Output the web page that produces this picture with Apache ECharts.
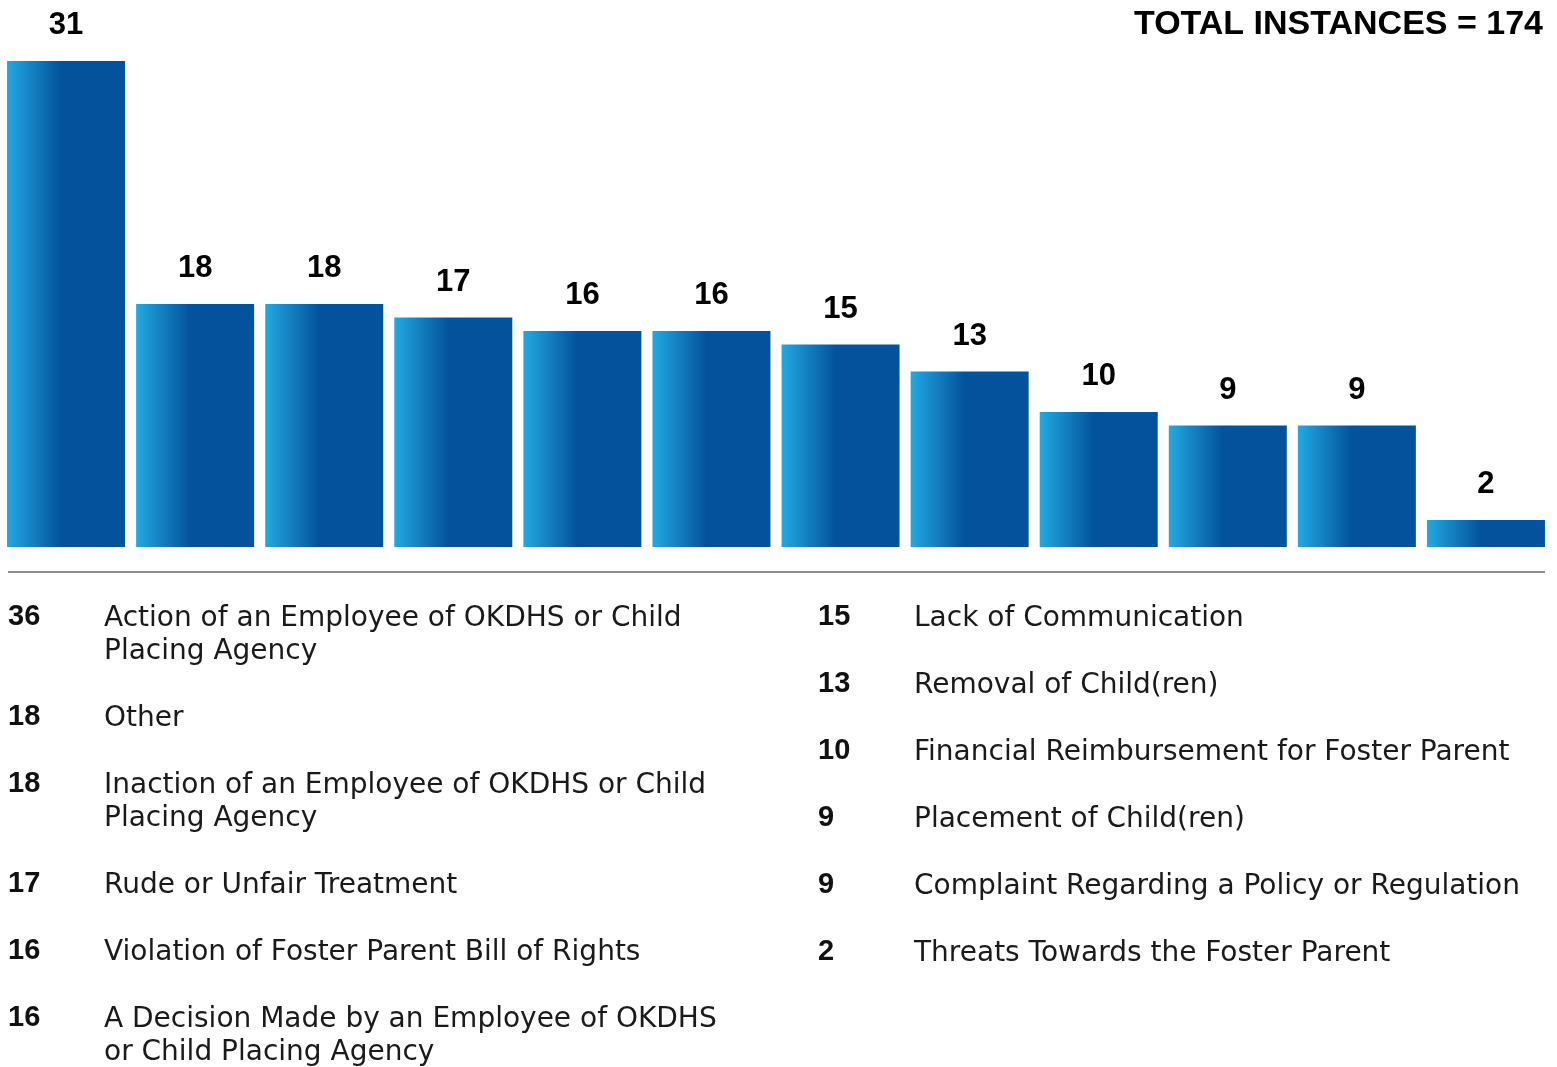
<!DOCTYPE html>
<html>
<head>
<meta charset="utf-8">
<script src="https://cdn.jsdelivr.net/npm/echarts@6/dist/echarts.min.js"></script>
<style>
html,body{margin:0;padding:0;background:#fff;}
#chart{width:1557px;height:1067px;}
</style>
</head>
<body>
<div id="chart"></div>
<script>
// ---- data ----
const categories = [
  'Action of an Employee of OKDHS or Child Placing Agency',
  'Other',
  'Inaction of an Employee of OKDHS or Child Placing Agency',
  'Rude or Unfair Treatment',
  'Violation of Foster Parent Bill of Rights',
  'A Decision Made by an Employee of OKDHS or Child Placing Agency',
  'Lack of Communication',
  'Removal of Child(ren)',
  'Financial Reimbursement for Foster Parent',
  'Placement of Child(ren)',
  'Complaint Regarding a Policy or Regulation',
  'Threats Towards the Foster Parent'
];
const barValues = [36, 18, 18, 17, 16, 16, 15, 13, 10, 9, 9, 2];
const barLabels = ['31', '18', '18', '17', '16', '16', '15', '13', '10', '9', '9', '2'];
const legendValues = [36, 18, 18, 17, 16, 16, 15, 13, 10, 9, 9, 2];
const totalText = 'TOTAL INSTANCES = 174';

// ---- layout/style ----
const LEGEND_FONT = '28px "DejaVu Sans"';
const NUM_FONT = 'bold 29px "Liberation Sans"';
const LINE_H = 33;
const ITEM_GAP = 67;

const chart = echarts.init(document.getElementById('chart'));

const ctx = document.createElement('canvas').getContext('2d');
ctx.font = LEGEND_FONT;
function wrap(text, maxW) {
  const words = text.split(' ');
  const lines = [];
  let cur = '';
  words.forEach(w => {
    const t = cur ? cur + ' ' + w : w;
    if (cur && ctx.measureText(t).width > maxW) { lines.push(cur); cur = w; }
    else cur = t;
  });
  if (cur) lines.push(cur);
  return lines;
}

const graphics = [];
graphics.push({
  type: 'line', silent: true,
  shape: { x1: 8, y1: 572, x2: 1545, y2: 572 },
  style: { stroke: '#8f8f8f', lineWidth: 2 }
});
graphics.push({
  type: 'text', silent: true,
  style: { text: totalText, x: 1543, y: 25, textAlign: 'right', textVerticalAlign: 'middle',
           font: 'bold 34px "Liberation Sans"', fill: '#000' }
});

const columns = [
  { numX: 8, textX: 104, maxW: 640, items: [0, 1, 2, 3, 4, 5] },
  { numX: 818, textX: 914, maxW: 700, items: [6, 7, 8, 9, 10, 11] }
];
columns.forEach(col => {
  let y = 617;
  col.items.forEach(i => {
    const lines = wrap(categories[i], col.maxW);
    graphics.push({
      type: 'text', silent: true,
      style: { text: String(legendValues[i]), x: col.numX, y: y, textVerticalAlign: 'middle',
               font: NUM_FONT, fill: '#111' }
    });
    graphics.push({
      type: 'text', silent: true,
      style: { text: lines.join('\n'), x: col.textX, y: y - LINE_H / 2 + 2, textVerticalAlign: 'top',
               lineHeight: LINE_H, font: LEGEND_FONT, fill: '#1a1a1a' }
    });
    y += (lines.length - 1) * LINE_H + ITEM_GAP;
  });
});

const option = {
  animation: false,
  backgroundColor: '#fff',
  grid: { left: 1.5, width: 1549, top: 61, bottom: 520 },
  xAxis: {
    type: 'category',
    data: categories,
    axisLine: { show: false },
    axisTick: { show: false },
    axisLabel: { show: false },
    splitLine: { show: false }
  },
  yAxis: {
    type: 'value', min: 0, max: 36,
    show: false,
    splitLine: { show: false }
  },
  series: [{
    type: 'bar',
    data: barValues,
    barWidth: 118,
    itemStyle: {
      color: new echarts.graphic.LinearGradient(0, 0, 1, 0, [
        { offset: 0, color: '#22a9e2' },
        { offset: 0.46, color: '#03529b' },
        { offset: 1, color: '#03529b' }
      ])
    },
    label: {
      show: true,
      position: 'top',
      distance: 20,
      formatter: p => barLabels[p.dataIndex],
      fontFamily: 'Liberation Sans',
      fontWeight: 'bold',
      fontSize: 31,
      color: '#000'
    }
  }],
  graphic: graphics
};
chart.setOption(option);
</script>
</body>
</html>
